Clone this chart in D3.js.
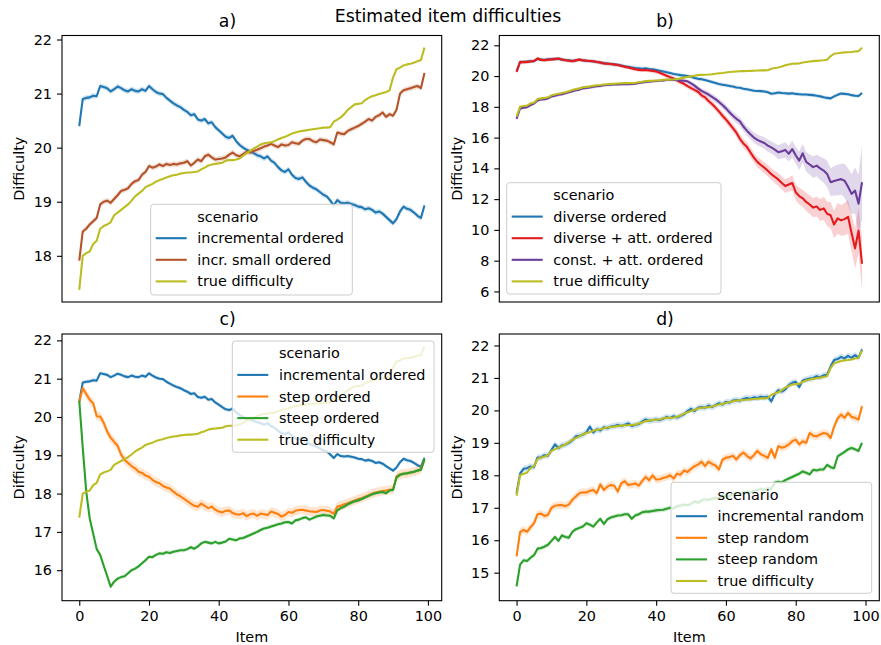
<!DOCTYPE html>
<html>
<head>
<meta charset="utf-8">
<script src="https://cdn.jsdelivr.net/npm/d3@7"></script>
<style>
  body { margin: 0; background: #fff; }
  text { font-family: "DejaVu Sans", sans-serif; fill: #000; }
</style>
</head>
<body>
<svg id="chart" width="881" height="645"></svg>
<script>
// ---- Data ----
const items = d3.range(100); // item index 0..99

const trueDifficulty = [
  17.37,18.00,18.05,18.08,18.22,18.28,18.50,18.55,18.58,18.62,
  18.75,18.80,18.85,18.90,18.95,19.02,19.10,19.15,19.20,19.27,
  19.30,19.33,19.37,19.40,19.42,19.45,19.47,19.49,19.50,19.52,
  19.53,19.54,19.54,19.55,19.56,19.60,19.63,19.67,19.69,19.70,
  19.71,19.72,19.76,19.77,19.77,19.78,19.80,19.85,19.90,19.94,
  19.98,20.02,20.06,20.08,20.09,20.10,20.12,20.15,20.18,20.20,
  20.23,20.26,20.28,20.30,20.31,20.32,20.33,20.34,20.35,20.36,
  20.37,20.37,20.38,20.48,20.52,20.56,20.62,20.70,20.75,20.80,
  20.81,20.82,20.88,20.92,20.95,20.97,20.99,21.01,21.03,21.06,
  21.30,21.45,21.48,21.52,21.54,21.55,21.57,21.60,21.62,21.85];

const incrementalOrdered = [
  20.40,20.90,20.92,20.93,20.96,20.95,21.14,21.12,21.10,21.04,
  21.08,21.13,21.10,21.06,21.04,21.08,21.05,21.04,21.08,21.05,
  21.14,21.08,21.03,21.00,20.99,20.92,20.87,20.82,20.78,20.75,
  20.70,20.66,20.60,20.62,20.52,20.50,20.53,20.45,20.47,20.38,
  20.32,20.26,20.20,20.18,20.22,20.12,20.05,20.00,19.96,19.93,
  19.90,19.86,19.84,19.80,19.84,19.76,19.72,19.64,19.58,19.55,
  19.60,19.50,19.44,19.42,19.45,19.37,19.30,19.26,19.23,19.18,
  19.13,19.10,19.02,18.93,19.03,18.98,18.97,18.98,18.96,18.94,
  18.91,18.90,18.86,18.88,18.85,18.80,18.82,18.78,18.72,18.66,
  18.60,18.68,18.82,18.91,18.87,18.85,18.80,18.74,18.70,18.93];

const incrSmallOrdered = [
  17.91,18.45,18.50,18.58,18.64,18.70,18.95,19.00,19.02,18.98,
  19.05,19.12,19.20,19.22,19.25,19.33,19.38,19.40,19.50,19.55,
  19.66,19.63,19.65,19.69,19.66,19.70,19.68,19.70,19.69,19.71,
  19.72,19.75,19.67,19.72,19.78,19.75,19.84,19.87,19.82,19.78,
  19.79,19.80,19.82,19.87,19.91,19.86,19.84,19.88,19.92,19.91,
  19.94,19.96,19.99,20.02,20.04,20.07,20.04,20.01,20.06,20.04,
  20.05,20.10,20.08,20.07,20.13,20.16,20.16,20.12,20.10,20.15,
  20.14,20.13,20.10,20.06,20.28,20.26,20.25,20.31,20.34,20.37,
  20.40,20.44,20.48,20.53,20.50,20.57,20.60,20.65,20.57,20.62,
  20.59,20.70,21.00,21.06,21.08,21.10,21.12,21.14,21.10,21.38];

const diverseOrdered = [
  20.30,20.90,20.93,20.94,20.96,20.97,21.12,21.08,21.06,21.08,
  21.10,21.12,21.12,21.07,21.04,21.02,20.99,21.03,21.06,21.02,
  21.00,20.98,20.95,20.92,20.88,20.84,20.82,20.79,20.76,20.73,
  20.69,20.64,20.60,20.56,20.52,20.50,20.48,20.50,20.46,20.44,
  20.40,20.35,20.30,20.25,20.20,20.14,20.10,20.06,20.03,20.00,
  19.95,19.88,19.82,19.80,19.74,19.68,19.62,19.55,19.48,19.44,
  19.40,19.36,19.32,19.26,19.24,19.18,19.14,19.10,19.05,19.03,
  19.02,19.00,18.95,18.85,18.88,18.93,18.90,18.88,18.86,18.88,
  18.84,18.82,18.80,18.80,18.78,18.76,18.72,18.68,18.62,18.58,
  18.55,18.68,18.78,18.86,18.84,18.82,18.76,18.72,18.70,18.90];

const diverseAttOrdered = [
  20.27,20.92,20.90,20.92,20.95,20.98,21.14,21.05,21.03,21.07,
  21.08,21.10,21.14,21.08,21.03,21.00,20.96,21.02,21.07,21.03,
  21.00,20.98,20.96,20.92,20.88,20.82,20.80,20.78,20.75,20.72,
  20.66,20.60,20.56,20.50,20.44,20.40,20.38,20.40,20.36,20.34,
  20.30,20.22,20.12,20.02,19.93,19.84,19.72,19.60,19.50,19.35,
  19.22,19.10,18.98,18.75,18.62,18.38,18.18,17.95,17.70,17.42,
  17.18,16.90,16.62,16.32,15.92,15.62,15.40,15.05,14.70,14.42,
  14.22,14.05,13.85,13.62,13.45,13.28,13.05,12.85,12.95,13.05,
  12.45,12.20,12.05,11.82,11.65,11.45,11.52,11.30,11.40,11.05,
  10.95,10.35,10.75,10.62,10.70,10.85,9.80,8.80,9.95,7.80];

const diverseAttCI = [
  0.12,0.12,0.12,0.12,0.12,0.12,0.12,0.12,0.12,0.12,
  0.12,0.12,0.12,0.12,0.12,0.12,0.12,0.12,0.12,0.12,
  0.12,0.12,0.12,0.12,0.12,0.12,0.12,0.12,0.12,0.12,
  0.12,0.12,0.12,0.12,0.12,0.12,0.12,0.12,0.12,0.12,
  0.13,0.13,0.14,0.14,0.15,0.15,0.16,0.16,0.17,0.17,
  0.18,0.18,0.19,0.20,0.20,0.21,0.22,0.22,0.23,0.24,
  0.25,0.26,0.27,0.28,0.28,0.30,0.30,0.32,0.32,0.34,
  0.35,0.36,0.38,0.38,0.40,0.42,0.42,0.45,0.45,0.50,
  0.50,0.55,0.55,0.60,0.60,0.62,0.65,0.70,0.75,0.80,
  0.85,0.90,1.00,1.00,1.05,1.10,1.20,1.30,1.50,1.70];

const constAttOrdered = [
  17.22,17.90,17.95,17.98,18.12,18.22,18.42,18.48,18.50,18.55,
  18.68,18.72,18.78,18.82,18.88,18.95,19.02,19.08,19.12,19.20,
  19.22,19.26,19.30,19.34,19.36,19.40,19.42,19.44,19.45,19.46,
  19.47,19.48,19.47,19.48,19.50,19.55,19.58,19.62,19.64,19.66,
  19.68,19.70,19.72,19.74,19.75,19.76,19.75,19.72,19.70,19.66,
  19.52,19.38,19.20,19.04,18.92,18.80,18.65,18.50,18.32,18.12,
  17.90,17.65,17.42,17.22,17.05,16.72,16.45,16.22,16.00,15.85,
  15.75,15.65,15.48,15.36,15.22,15.05,15.12,15.20,14.95,15.25,
  14.85,14.50,14.98,14.42,14.25,14.08,14.18,14.00,13.86,13.64,
  13.10,13.18,13.24,13.30,13.20,12.80,12.34,12.56,11.70,13.10];

const constAttCI = [
  0.10,0.10,0.10,0.10,0.10,0.10,0.10,0.10,0.10,0.10,
  0.10,0.10,0.10,0.10,0.10,0.10,0.10,0.10,0.10,0.10,
  0.10,0.10,0.10,0.10,0.10,0.10,0.10,0.10,0.10,0.10,
  0.10,0.10,0.10,0.10,0.10,0.10,0.10,0.10,0.10,0.10,
  0.10,0.10,0.10,0.10,0.10,0.12,0.12,0.12,0.12,0.12,
  0.14,0.15,0.16,0.17,0.18,0.19,0.20,0.21,0.22,0.23,
  0.24,0.25,0.26,0.27,0.28,0.30,0.30,0.32,0.33,0.35,
  0.36,0.38,0.40,0.40,0.42,0.45,0.48,0.50,0.50,0.55,
  0.55,0.60,0.60,0.62,0.65,0.70,0.70,0.75,0.80,0.85,
  0.90,0.95,1.00,1.00,1.10,1.20,1.30,1.50,1.90,2.40];

const stepOrdered = [
  20.40,20.75,20.60,20.45,20.36,20.02,20.01,19.85,19.62,19.46,
  19.35,19.25,19.02,18.88,18.80,18.72,18.66,18.57,18.54,18.47,
  18.44,18.36,18.30,18.27,18.20,18.16,18.13,18.05,17.98,17.93,
  17.87,17.80,17.74,17.68,17.66,17.74,17.68,17.62,17.66,17.58,
  17.53,17.51,17.55,17.56,17.49,17.46,17.45,17.49,17.41,17.46,
  17.48,17.42,17.48,17.46,17.44,17.53,17.50,17.47,17.40,17.44,
  17.52,17.50,17.55,17.57,17.58,17.56,17.54,17.53,17.52,17.56,
  17.57,17.55,17.53,17.47,17.66,17.68,17.72,17.75,17.79,17.82,
  17.86,17.88,17.92,17.96,18.00,18.03,18.05,18.07,18.08,18.10,
  18.10,18.45,18.50,18.52,18.53,18.55,18.57,18.60,18.64,18.88];

const steepOrdered = [
  20.42,19.20,18.05,17.35,16.95,16.55,16.40,16.12,15.85,15.57,
  15.70,15.78,15.82,15.84,15.92,16.00,16.04,16.10,16.18,16.26,
  16.35,16.34,16.40,16.44,16.43,16.47,16.45,16.48,16.50,16.52,
  16.52,16.55,16.60,16.56,16.62,16.70,16.74,16.72,16.70,16.74,
  16.70,16.72,16.75,16.82,16.80,16.78,16.83,16.84,16.88,16.92,
  16.96,17.00,17.05,17.09,17.11,17.14,17.17,17.20,17.22,17.25,
  17.26,17.22,17.30,17.32,17.36,17.38,17.32,17.36,17.40,17.42,
  17.44,17.43,17.42,17.35,17.56,17.62,17.66,17.72,17.76,17.80,
  17.82,17.86,17.90,17.94,17.98,18.01,18.03,18.04,18.01,18.08,
  18.10,18.42,18.49,18.52,18.53,18.55,18.57,18.60,18.62,18.90];

const incrementalRandom = [
  17.45,18.05,18.20,18.22,18.27,18.25,18.55,18.55,18.62,18.60,
  18.78,18.95,18.84,18.92,18.95,19.00,19.08,19.20,19.22,19.25,
  19.32,19.50,19.32,19.42,19.38,19.48,19.45,19.50,19.52,19.55,
  19.52,19.56,19.60,19.52,19.55,19.58,19.65,19.72,19.68,19.70,
  19.72,19.70,19.74,19.80,19.76,19.82,19.78,19.83,19.88,19.98,
  20.05,19.98,20.08,20.10,20.08,20.15,20.10,20.16,20.22,20.18,
  20.26,20.24,20.30,20.32,20.30,20.35,20.38,20.36,20.40,20.38,
  20.42,20.40,20.42,20.28,20.50,20.62,20.58,20.65,20.78,20.85,
  20.88,20.72,20.92,20.95,20.98,21.00,21.05,21.02,21.08,21.10,
  21.35,21.55,21.58,21.65,21.60,21.68,21.62,21.70,21.62,21.88];

const stepRandom = [
  15.50,16.25,16.32,16.26,16.40,16.52,16.80,16.82,16.75,16.78,
  17.00,17.06,17.08,17.08,17.05,17.10,17.25,17.35,17.45,17.48,
  17.47,17.52,17.55,17.45,17.72,17.55,17.65,17.70,17.68,17.50,
  17.75,17.82,17.70,17.72,17.75,17.68,17.82,17.95,17.85,18.00,
  17.87,17.88,17.92,17.95,18.00,17.90,18.05,18.02,18.15,18.10,
  18.20,18.28,18.33,18.42,18.28,18.42,18.35,18.30,18.18,18.48,
  18.54,18.56,18.60,18.49,18.62,18.70,18.60,18.52,18.62,18.75,
  18.65,18.60,18.54,18.80,18.54,18.90,18.85,18.88,18.95,19.05,
  19.10,18.95,19.05,19.00,19.30,19.22,19.20,19.26,19.30,19.28,
  19.15,19.50,19.75,19.87,19.77,19.92,19.80,19.77,19.72,20.13];

const steepRandom = [
  14.58,15.25,15.38,15.36,15.46,15.54,15.74,15.76,15.80,15.86,
  15.98,16.10,15.98,16.15,16.10,16.08,16.26,16.34,16.38,16.42,
  16.52,16.48,16.42,16.55,16.66,16.50,16.64,16.70,16.73,16.76,
  16.77,16.80,16.80,16.66,16.76,16.80,16.86,16.88,16.88,16.90,
  16.92,16.93,16.94,16.97,17.00,16.98,17.05,17.07,17.10,17.08,
  17.12,17.20,17.15,17.22,17.26,17.24,17.28,17.30,17.28,17.36,
  17.38,17.35,17.42,17.45,17.44,17.48,17.50,17.47,17.52,17.55,
  17.58,17.55,17.60,17.58,17.78,17.80,17.78,17.85,17.90,17.95,
  18.00,18.05,18.12,18.08,18.03,18.17,18.15,18.18,18.18,18.32,
  18.25,18.22,18.58,18.65,18.72,18.80,18.84,18.80,18.75,19.00];

// constant confidence half-widths for the narrow bands
const bandHalfWidth = {
  incrementalOrdered: 0.05, incrSmallOrdered: 0.05, diverseOrdered: 0.12,
  stepOrdered: 0.12, steepOrdered: 0.05,
  incrementalRandom: 0.10, stepRandom: 0.12, steepRandom: 0.07
};

const xTicks = [0, 20, 40, 60, 80, 100];
const yTicksA = [18, 19, 20, 21, 22];
const yTicksB = [6, 8, 10, 12, 14, 16, 18, 20, 22];
const yTicksC = [16, 17, 18, 19, 20, 21, 22];
const yTicksD = [15, 16, 17, 18, 19, 20, 21, 22];

// ---- Panels ----
const COLORS = {
  blue: "#1f77b4", brown: "#b5542b", olive: "#bcbd22", red: "#e41a1c",
  purple: "#6a3d9a", orange: "#ff7f0e", green: "#2ca02c"
};
const trueSeries = { name: "true difficulty", values: trueDifficulty, color: COLORS.olive, ci: null };

const panels = [
  { title: "a)", titleX: 227.5, left: 62, right: 441.7, top: 35.5, bottom: 302, yTicks: yTicksA, xLabels: false,
    ylabelX: 24, legend: { x: 150.7, y: 204.3, w: 201.6, h: 90.7 },
    series: [
      { name: "incremental ordered", values: incrementalOrdered, color: COLORS.blue, ci: bandHalfWidth.incrementalOrdered },
      { name: "incr. small ordered", values: incrSmallOrdered, color: COLORS.brown, ci: bandHalfWidth.incrSmallOrdered },
      trueSeries ] },
  { title: "b)", titleX: 665, left: 499.3, right: 879.3, top: 35.5, bottom: 302, yTicks: yTicksB, xLabels: false,
    ylabelX: 462, legend: { x: 506.7, y: 182.7, w: 214.3, h: 111.3 },
    series: [
      { name: "diverse ordered", values: diverseOrdered, color: COLORS.blue, ci: bandHalfWidth.diverseOrdered },
      { name: "diverse + att. ordered", values: diverseAttOrdered, color: COLORS.red, ci: diverseAttCI },
      { name: "const. + att. ordered", values: constAttOrdered, color: COLORS.purple, ci: constAttCI },
      trueSeries ] },
  { title: "c)", titleX: 227.5, left: 62, right: 441.7, top: 334, bottom: 600.7, yTicks: yTicksC, xLabels: true,
    ylabelX: 24, legend: { x: 232.3, y: 341, w: 201.7, h: 111.3 },
    series: [
      { name: "incremental ordered", values: incrementalOrdered, color: COLORS.blue, ci: bandHalfWidth.incrementalOrdered },
      { name: "step ordered", values: stepOrdered, color: COLORS.orange, ci: bandHalfWidth.stepOrdered },
      { name: "steep ordered", values: steepOrdered, color: COLORS.green, ci: bandHalfWidth.steepOrdered },
      trueSeries ] },
  { title: "d)", titleX: 665, left: 499.3, right: 879.3, top: 334, bottom: 600.7, yTicks: yTicksD, xLabels: true,
    ylabelX: 462, legend: { x: 671, y: 482.3, w: 200.7, h: 111 },
    series: [
      { name: "incremental random", values: incrementalRandom, color: COLORS.blue, ci: bandHalfWidth.incrementalRandom },
      { name: "step random", values: stepRandom, color: COLORS.orange, ci: bandHalfWidth.stepRandom },
      { name: "steep random", values: steepRandom, color: COLORS.green, ci: bandHalfWidth.steepRandom },
      trueSeries ] }
];

const FS = 14.4;      // tick / label / legend font size
const TITLE_FS = 17.3;
const LW = 2.1;

const svg = d3.select("#chart");

svg.append("text")
  .attr("x", 448).attr("y", 21.5)
  .attr("text-anchor", "middle")
  .attr("font-size", TITLE_FS)
  .text("Estimated item difficulties");

panels.forEach(drawPanel);

function halfWidth(s, i) {
  if (s.ci === null) return 0;
  return Array.isArray(s.ci) ? s.ci[i] : s.ci;
}

function drawPanel(p) {
  const g = svg.append("g");

  // Scales: matplotlib style 5% margins around the data (incl. bands)
  const x = d3.scaleLinear().domain([-4.95, 103.95]).range([p.left, p.right]);
  const lo = d3.min(p.series, s => d3.min(items, i => s.values[i] - halfWidth(s, i)));
  const hi = d3.max(p.series, s => d3.max(items, i => s.values[i] + halfWidth(s, i)));
  const pad = (hi - lo) * 0.05;
  const y = d3.scaleLinear().domain([lo - pad, hi + pad]).range([p.bottom, p.top]);

  // Bands + lines, in hue order
  p.series.forEach(s => {
    if (s.ci !== null) {
      const band = d3.area()
        .x(i => x(i))
        .y0(i => y(s.values[i] - halfWidth(s, i)))
        .y1(i => y(s.values[i] + halfWidth(s, i)));
      g.append("path")
        .datum(items)
        .attr("d", band)
        .attr("fill", s.color)
        .attr("fill-opacity", 0.2)
        .attr("stroke", "none");
    }
    const line = d3.line().x(i => x(i)).y(i => y(s.values[i]));
    g.append("path")
      .datum(items)
      .attr("d", line)
      .attr("fill", "none")
      .attr("stroke", s.color)
      .attr("stroke-width", LW)
      .attr("stroke-linejoin", "round");
  });

  // Y axis
  const yAxis = g.append("g")
    .attr("transform", `translate(${p.left},0)`)
    .call(d3.axisLeft(y).tickValues(p.yTicks).tickFormat(d3.format("d"))
      .tickSize(5).tickPadding(5).tickSizeOuter(0));
  yAxis.select(".domain").remove();

  // X axis (labels only on the bottom row)
  if (p.xLabels) {
    const xAxis = g.append("g")
      .attr("transform", `translate(0,${p.bottom})`)
      .call(d3.axisBottom(x).tickValues(xTicks).tickFormat(d3.format("d"))
        .tickSize(5).tickPadding(5).tickSizeOuter(0));
    xAxis.select(".domain").remove();
    g.append("text")
      .attr("x", (p.left + p.right) / 2).attr("y", 641.5)
      .attr("text-anchor", "middle")
      .attr("font-size", FS)
      .text("Item");
  }

  g.selectAll(".tick text")
    .attr("font-family", '"DejaVu Sans", sans-serif')
    .attr("font-size", FS)
    .attr("fill", "#000");
  g.selectAll(".tick line").attr("stroke", "#000").attr("stroke-width", 1.1);

  // Frame
  g.append("rect")
    .attr("x", p.left).attr("y", p.top)
    .attr("width", p.right - p.left).attr("height", p.bottom - p.top)
    .attr("fill", "none").attr("stroke", "#000").attr("stroke-width", 1.1);

  // Y label
  g.append("text")
    .attr("transform", `translate(${p.ylabelX},${(p.top + p.bottom) / 2}) rotate(-90)`)
    .attr("text-anchor", "middle")
    .attr("font-size", FS)
    .text("Difficulty");

  // Panel title
  g.append("text")
    .attr("x", p.titleX).attr("y", p.top - 9)
    .attr("text-anchor", "middle")
    .attr("font-size", TITLE_FS)
    .text(p.title);

  // Legend
  const L = p.legend;
  const lg = g.append("g");
  lg.append("rect")
    .attr("x", L.x).attr("y", L.y).attr("width", L.w).attr("height", L.h)
    .attr("rx", 3).attr("ry", 3)
    .attr("fill", "#fff").attr("fill-opacity", 0.8)
    .attr("stroke", "#cccccc").attr("stroke-width", 1);
  const rowY = k => L.y + 12.3 + k * 21.6;
  const textX = L.x + 46.6;
  lg.append("text")
    .attr("x", textX).attr("y", rowY(0)).attr("dy", "0.35em")
    .attr("font-size", FS)
    .text("scenario");
  p.series.forEach((s, k) => {
    lg.append("line")
      .attr("x1", L.x + 5).attr("x2", L.x + 36)
      .attr("y1", rowY(k + 1)).attr("y2", rowY(k + 1))
      .attr("stroke", s.color).attr("stroke-width", LW);
    lg.append("text")
      .attr("x", textX).attr("y", rowY(k + 1)).attr("dy", "0.35em")
      .attr("font-size", FS)
      .text(s.name);
  });
}
</script>
</body>
</html>
